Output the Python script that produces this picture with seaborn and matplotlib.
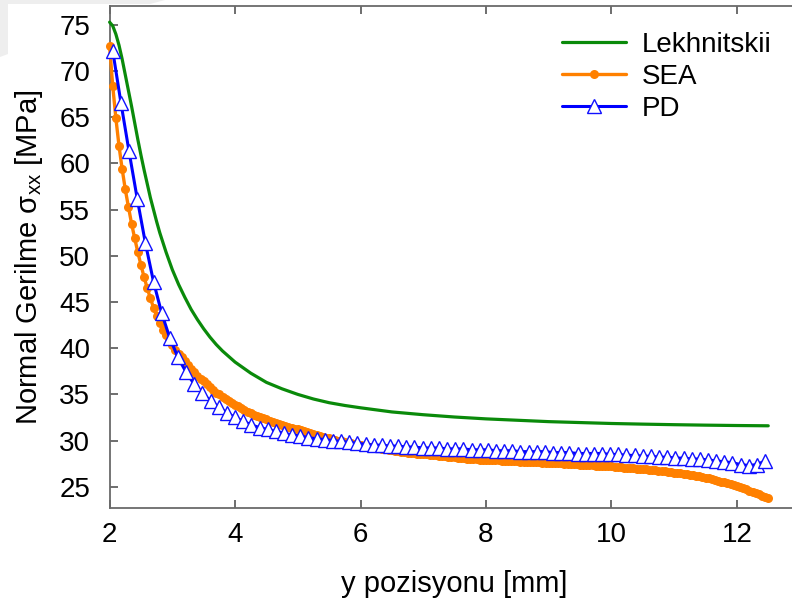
import numpy as np
import pandas as pd
import matplotlib
matplotlib.use("Agg")
import matplotlib.pyplot as plt
from matplotlib.patches import Polygon
import seaborn as sns

# Lekhnitskii analytical solution
lek_x = [2.00, 2.05, 2.10, 2.15, 2.20, 2.25, 2.30, 2.35, 2.40, 2.45, 2.50, 2.55,
         2.60, 2.65, 2.70, 2.75, 2.80, 2.90, 3.00, 3.10, 3.20, 3.30, 3.40, 3.50,
         3.60, 3.70, 3.80, 3.90, 4.00, 4.25, 4.50, 4.75, 5.00, 5.25, 5.50, 5.75,
         6.00, 6.50, 7.00, 7.50, 8.00, 8.50, 9.00, 9.50, 10.00, 10.50, 11.00,
         11.50, 12.00, 12.50]
lek_y = [75.3, 74.9, 74.0, 72.8, 71.3, 69.6, 67.9, 66.2, 64.4, 62.6, 60.9, 59.3,
         57.8, 56.3, 55.0, 53.7, 52.5, 50.4, 48.5, 46.9, 45.5, 44.2, 43.1, 42.1,
         41.2, 40.4, 39.7, 39.1, 38.5, 37.3, 36.3, 35.6, 35.0, 34.5, 34.1, 33.8,
         33.55, 33.1, 32.8, 32.55, 32.35, 32.2, 32.05, 31.95, 31.85, 31.78, 31.72,
         31.67, 31.63, 31.6]

# SEA results, sampled every 0.05 mm from 2.0 to 12.5 mm
sea_y = [72.7, 68.4, 64.9, 61.9, 59.4, 57.2, 55.3, 53.5, 51.9, 50.4,
         49.0, 47.7, 46.5, 45.4, 44.4, 43.5, 42.7, 42.0, 41.4, 40.8,
         40.3, 39.8, 39.4, 39.0, 38.6, 38.2, 37.8, 37.4, 37.0, 36.7,
         36.4, 36.1, 35.8, 35.5, 35.2, 35.0, 34.7, 34.5, 34.3, 34.1,
         33.9, 33.7, 33.5, 33.3, 33.1, 33.0, 32.8, 32.7, 32.5, 32.4,
         32.3, 32.1, 32.0, 31.9, 31.8, 31.7, 31.6, 31.5, 31.4, 31.3,
         31.2, 31.1, 31.0, 30.9, 30.8, 30.7, 30.6, 30.5, 30.4, 30.3,
         30.25, 30.15, 30.05, 30.0, 29.9, 29.8, 29.75, 29.7, 29.6, 29.55,
         29.5, 29.4, 29.35, 29.3, 29.25, 29.2, 29.15, 29.1, 29.05, 29.0,
         28.95, 28.9, 28.85, 28.8, 28.75, 28.7, 28.7, 28.65, 28.6, 28.55,
         28.5, 28.5, 28.45, 28.4, 28.4, 28.35, 28.3, 28.3, 28.25, 28.2,
         28.2, 28.15, 28.1, 28.1, 28.05, 28.05, 28.0, 28.0, 27.95, 27.95,
         27.9, 27.9, 27.9, 27.85, 27.85, 27.8, 27.8, 27.8, 27.75, 27.75,
         27.75, 27.7, 27.7, 27.7, 27.7, 27.65, 27.65, 27.65, 27.6, 27.6,
         27.6, 27.6, 27.55, 27.55, 27.55, 27.5, 27.5, 27.5, 27.45, 27.45,
         27.4, 27.4, 27.4, 27.35, 27.35, 27.3, 27.3, 27.25, 27.25, 27.2,
         27.2, 27.15, 27.1, 27.1, 27.05, 27.0, 27.0, 26.98, 26.95, 26.92,
         26.9, 26.87, 26.84, 26.8, 26.77, 26.73, 26.7, 26.66, 26.62, 26.58,
         26.54, 26.5, 26.45, 26.4, 26.35, 26.3, 26.24, 26.18, 26.12, 26.05,
         25.98, 25.9, 25.82, 25.74, 25.65, 25.56, 25.47, 25.37, 25.27, 25.17,
         25.06, 24.95, 24.83, 24.71, 24.58, 24.45, 24.32, 24.18, 24.04, 23.9,
         23.76]
sea_x = np.round(np.linspace(2.0, 12.5, len(sea_y)), 3)

# PD results, sampled every 0.13 mm from 2.05 to 12.45 mm
pd_y = [72.2, 66.6, 61.3, 56.2, 51.4, 47.2, 43.8, 41.1, 39.0, 37.4,
        36.1, 35.1, 34.3, 33.6, 33.0, 32.5, 32.1, 31.7, 31.4, 31.2,
        31.0, 30.8, 30.6, 30.5, 30.3, 30.2, 30.1, 30.0, 29.9, 29.8,
        29.7, 29.6, 29.5, 29.5, 29.4, 29.4, 29.3, 29.3, 29.2, 29.2,
        29.2, 29.1, 29.1, 29.1, 29.0, 29.0, 29.0, 28.9, 28.9, 28.9,
        28.8, 28.8, 28.8, 28.8, 28.7, 28.7, 28.7, 28.6, 28.6, 28.6,
        28.6, 28.5, 28.5, 28.4, 28.4, 28.3, 28.3, 28.2, 28.2, 28.1,
        28.1, 28.0, 28.0, 27.9, 27.8, 27.7, 27.6, 27.4, 27.3, 27.4,
        27.8]
pd_x = np.round(np.linspace(2.05, 12.45, len(pd_y)), 3)

x_ticks = [2, 4, 6, 8, 10, 12]
y_ticks = [25, 30, 35, 40, 45, 50, 55, 60, 65, 70, 75]

sns.set_style("ticks")
plt.rcParams["font.family"] = ["Liberation Sans", "DejaVu Sans"]
plt.rcParams["mathtext.default"] = "regular"
plt.rcParams["text.color"] = "black"
plt.rcParams["axes.labelcolor"] = "black"
plt.rcParams["xtick.labelcolor"] = "black"
plt.rcParams["ytick.labelcolor"] = "black"

fig = plt.figure(figsize=(7.92, 6.09), dpi=100)

# faint page shadow in the top-left corner
fig.patches.append(Polygon([[0, 609], [165, 609], [150, 605], [8, 605], [8, 555], [0, 552]],
                           closed=True, transform=None, facecolor="#eeeeee",
                           edgecolor="none", zorder=0))

ax = fig.add_axes([109.6 / 792, 101 / 609, 690 / 792, 502 / 609])
ax.patch.set_alpha(0)

lek = pd.DataFrame({"x": lek_x, "y": lek_y})
sea = pd.DataFrame({"x": sea_x, "y": sea_y})
pdd = pd.DataFrame({"x": pd_x, "y": pd_y})

sns.lineplot(data=lek, x="x", y="y", ax=ax, color="#0a8a0a", linewidth=2.3,
             label="Lekhnitskii", zorder=3, clip_on=False)
sns.lineplot(data=sea, x="x", y="y", ax=ax, color="#ff8000", linewidth=2.4,
             marker="o", markersize=6.5, markeredgewidth=0, label="SEA",
             zorder=4, clip_on=False)
sns.lineplot(data=pdd, x="x", y="y", ax=ax, color="#0000ff", linewidth=2.2,
             marker="^", markersize=9.5, markerfacecolor="white",
             markeredgecolor="#1010ff", markeredgewidth=1.0, label="PD",
             zorder=5, clip_on=False)

ax.set_xlim(2, 13)
ax.set_ylim(22.7, 77.05)
ax.set_xticks(x_ticks)
ax.set_yticks(y_ticks)
ax.tick_params(direction="in", length=6, width=1.2, color="#555555",
               labelsize=20, top=True, right=True, pad=10)
ax.tick_params(axis="y", pad=14)
for sp in ax.spines.values():
    sp.set_visible(True)
    sp.set_color("#6a6a6a")
    sp.set_linewidth(1.3)

ax.set_xlabel("y pozisyonu [mm]", fontsize=21, labelpad=16)
ax.set_ylabel("Normal Gerilme $σ_{xx}$ [MPa]", fontsize=21, labelpad=10)

ax.legend(loc="upper right", bbox_to_anchor=(0.998 * (792 - 109.6) / 690, 0.987),
          frameon=False, fontsize=20, handlelength=2.3, handletextpad=0.55,
          labelspacing=0.22, borderaxespad=0.3)

fig.savefig("out.png", dpi=100)
